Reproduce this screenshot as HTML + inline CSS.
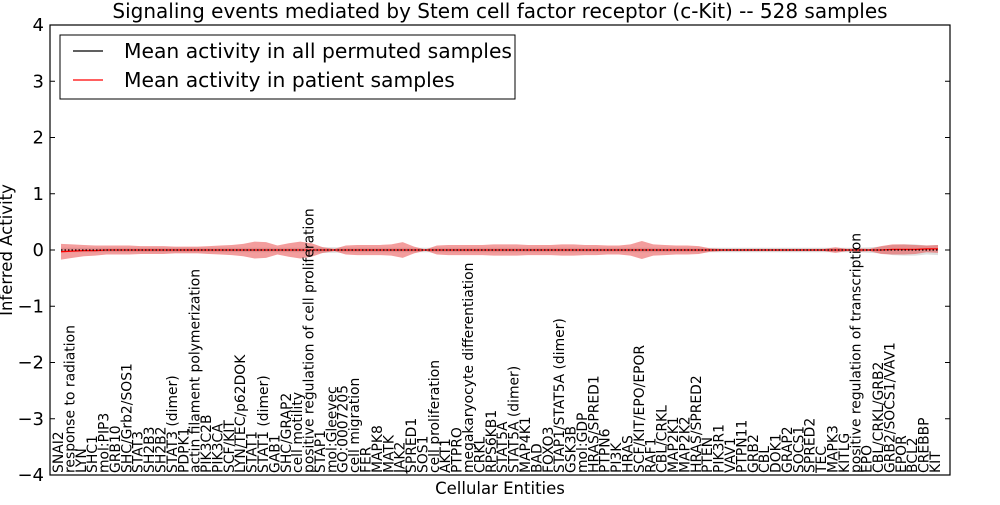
<!DOCTYPE html>
<html><head><meta charset="utf-8"><style>
html,body{margin:0;padding:0;background:#fff;}
svg text{font-family:"DejaVu Sans","Liberation Sans",sans-serif;}
</style></head><body>
<svg id="chart" width="1000" height="500" xmlns="http://www.w3.org/2000/svg">
<rect width="1000" height="500" fill="#fff"/>
<g id="plot"></g>
<rect x="50" y="25" width="900" height="450" fill="none" stroke="#000" stroke-width="1.2"/>
<text x="500" y="18" font-size="20" text-anchor="middle">Signaling events mediated by Stem cell factor receptor (c-Kit) -- 528 samples</text>
<text x="500" y="494" font-size="16.5" text-anchor="middle">Cellular Entities</text>
<text transform="translate(12,250) rotate(-90)" font-size="16.5" text-anchor="middle">Inferred Activity</text>
<g id="yticks"></g>
<g id="xlabels"></g>
<g>
<rect x="60" y="35" width="455" height="64" fill="#fff" stroke="#000" stroke-width="1"/>
<g><line x1="73" y1="51" x2="103" y2="51" stroke="#000" stroke-width="1.2"/><text x="124" y="58" font-size="20.3">Mean activity in all permuted samples</text></g>
<g><line x1="73" y1="80" x2="103" y2="80" stroke="#f00" stroke-width="1.2"/><text x="124" y="87" font-size="20.3">Mean activity in patient samples</text></g>
</g>
</svg>
<script>
const categories=["SNAI2","response to radiation","LYN","SHC1","mol:PIP3","GRB10","SHC/Grb2/SOS1","STAT3","SH2B3","SH2B2","STAT3 (dimer)","PDPK1","actin filament polymerization","PIK3C2B","PIK3CA","SCF/KIT","LYN/TEC/p62DOK","STAT1","STAT1 (dimer)","GAB1","SHC/GRAP2","cell motility","positive regulation of cell proliferation","STAP1","mol:Gleevec","GO:0007205","cell migration","FER","MAPK8","MATK","JAK2","SPRED1","SOS1","cell proliferation","AKT1","PTPRO","megakaryocyte differentiation","CRKL","RPS6KB1","STAT5A","STAT5A (dimer)","MAP4K1","BAD","FOXO3","STAP1/STAT5A (dimer)","GSK3B","mol:GDP","HRAS/SPRED1","PTPN6","PI3K","HRAS","SCF/KIT/EPO/EPOR","RAF1","CBL/CRKL","MAP2K1","MAP2K2","HRAS/SPRED2","PTEN","PIK3R1","VAV1","PTPN11","GRB2","CBL","DOK1","GRAP2","SOCS1","SPRED2","TEC","MAPK3","KITLG","positive regulation of transcription","EPO","CBL/CRKL/GRB2","GRB2/SOCS1/VAV1","EPOR","BCL2","CREBBP","KIT"];
const patientMean=[-0.03,-0.02,-0.01,-0.01,0,0,0,0,0,0,0,0,0,0,0,0,0,0,0,0,0,0,0,0,0,0,0,0,0,0,0,0,0,0,0,0,0,0,0,0,0,0,0,0,0,0,0,0,0,0,0,0,0,0,0,0,0,0,0,0,0,0,0,0,0,0,0,0,0,0,0,0,0,0.01,0.01,0.01,0.02,0.02];
const patientSpread=[0.14,0.12,0.1,0.09,0.08,0.08,0.08,0.07,0.07,0.07,0.06,0.06,0.06,0.07,0.08,0.09,0.11,0.15,0.14,0.08,0.12,0.15,0.12,0.05,0.02,0.08,0.09,0.09,0.09,0.1,0.14,0.06,0.01,0.08,0.09,0.09,0.09,0.09,0.1,0.1,0.1,0.09,0.09,0.09,0.1,0.1,0.09,0.09,0.08,0.08,0.1,0.16,0.1,0.09,0.08,0.08,0.07,0.03,0.02,0.02,0.02,0.02,0.02,0.02,0.02,0.02,0.02,0.02,0.05,0.02,0.03,0.02,0.07,0.09,0.09,0.08,0.06,0.07];
const permutedMean=new Array(78).fill(0);
const permutedSpread=[0.04,0.04,0.04,0.04,0.04,0.04,0.04,0.04,0.04,0.04,0.04,0.04,0.04,0.04,0.04,0.04,0.04,0.04,0.04,0.04,0.04,0.04,0.04,0.05,0.05,0.04,0.04,0.04,0.04,0.04,0.04,0.04,0.04,0.04,0.04,0.04,0.04,0.04,0.04,0.04,0.04,0.04,0.04,0.04,0.04,0.04,0.04,0.04,0.04,0.04,0.04,0.04,0.04,0.04,0.04,0.04,0.04,0.04,0.04,0.04,0.04,0.04,0.04,0.04,0.04,0.04,0.04,0.04,0.04,0.04,0.04,0.05,0.06,0.09,0.1,0.1,0.08,0.09];
const yTicks=[4,3,2,1,0,-1,-2,-3,-4];
const NS="http://www.w3.org/2000/svg";
const X=i=>61+i*(938-61)/(categories.length-1);
const Y=v=>250-v*56.25;
function mk(tag,attrs,parent){const e=document.createElementNS(NS,tag);for(const k in attrs)e.setAttribute(k,attrs[k]);parent.appendChild(e);return e;}
const plot=document.getElementById('plot');
function band(mean,spread,fill,op,name){
  let d='';
  mean.forEach((m,i)=>{d+=(i?'L':'M')+X(i)+','+Y(m+spread[i]);});
  for(let i=mean.length-1;i>=0;i--)d+='L'+X(i)+','+Y(mean[i]-spread[i]);
  const p=mk('path',{d:d+'Z',fill:fill,'fill-opacity':op,stroke:'none'},plot);
  
  
}
function line(mean,color,name,dash){
  const pts=mean.map((m,i)=>X(i)+','+Y(m)).join(' ');
  const p=mk('polyline',{points:pts,fill:'none',stroke:color,'stroke-width':1.3},plot);
  if(dash)p.setAttribute('stroke-dasharray',dash);
  
  
}
band(permutedMean,permutedSpread,'#c8c8c8',0.6,'permuted-band');
band(patientMean,patientSpread,'#e83c3c',0.5,'patient-band');
line(patientMean,'#f00','patient-mean-line');
line(permutedMean,'#000','permuted-mean-line','1.5,2');
const yt=document.getElementById('yticks');
yTicks.forEach(v=>{
  const t=mk('text',{x:44,y:Y(v)+6,'font-size':18,'text-anchor':'end'},yt);
  t.textContent=String(v).replace('-','\u2212');
  
  
  const l=mk('line',{x1:50,x2:55,y1:Y(v),y2:Y(v),stroke:'#000'},yt);
  
  
  const r=mk('line',{x1:945,x2:950,y1:Y(v),y2:Y(v),stroke:'#000'},yt);
  
  
});
const xl=document.getElementById('xlabels');
categories.forEach((c,i)=>{
  const x=X(i)+2;
  const t=mk('text',{transform:`translate(${x},473) rotate(-90)`,'font-size':13.9,'text-anchor':'start'},xl);
  t.textContent=c;
  
  
});
</script>
</body></html>
